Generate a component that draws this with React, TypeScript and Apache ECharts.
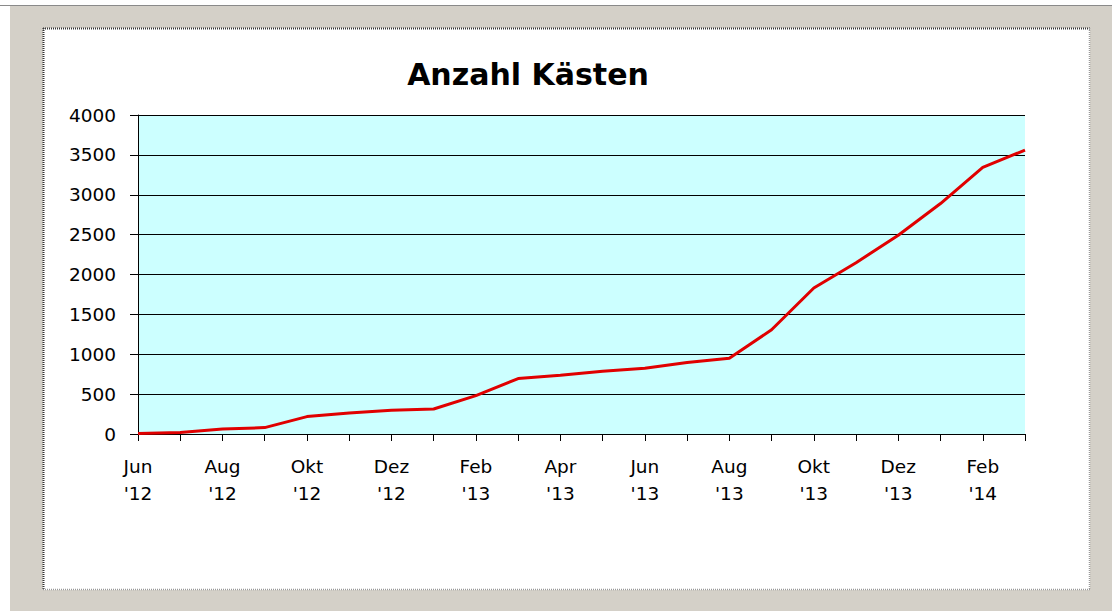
import React, { useEffect, useRef } from "react";
import * as echarts from "echarts";

const months = [
  "Jun\n'12", "Jul\n'12", "Aug\n'12", "Sep\n'12", "Okt\n'12", "Nov\n'12", "Dez\n'12",
  "Jan\n'13", "Feb\n'13", "Mär\n'13", "Apr\n'13", "Mai\n'13", "Jun\n'13", "Jul\n'13",
  "Aug\n'13", "Sep\n'13", "Okt\n'13", "Nov\n'13", "Dez\n'13", "Jan\n'14", "Feb\n'14", "Mär\n'14",
];
const kaesten = [
  5, 20, 63, 80, 218, 264, 297, 314, 482, 695, 737, 787, 825, 896, 951, 1307, 1830, 2148,
  2492, 2890, 3342, 3560,
];
const titleText = "Anzahl Kästen";

export default function App() {
  const ref = useRef<HTMLDivElement>(null);
  useEffect(() => {
    const chart = echarts.init(ref.current!, null, { renderer: "svg" });
    const font = "'DejaVu Sans', Verdana, sans-serif";
    chart.setOption({
      animation: false,
      backgroundColor: "#D4D0C8",
      textStyle: { fontFamily: font },
      graphic: [
        { type: "rect", shape: { x: 0, y: 0, width: 1112, height: 5 }, style: { fill: "#ffffff" }, z: -10 },
        { type: "rect", shape: { x: 0, y: 0, width: 10, height: 611 }, style: { fill: "#ffffff" }, z: -10 },
        { type: "line", shape: { x1: 0, y1: 5.5, x2: 1112, y2: 5.5 }, style: { stroke: "#8a8a8a", lineWidth: 1 }, z: -9 },
        { type: "rect", shape: { x: 43, y: 28, width: 1047, height: 562 }, style: { fill: "#ffffff" }, z: -8 },
        { type: "line", shape: { x1: 43.5, y1: 28, x2: 43.5, y2: 590 }, style: { stroke: "#333333", lineWidth: 2, lineDash: [1, 1] }, z: -7 },
        { type: "line", shape: { x1: 43, y1: 28.5, x2: 1090, y2: 28.5 }, style: { stroke: "#333333", lineWidth: 2, lineDash: [1, 1] }, z: -7 },
        { type: "line", shape: { x1: 1089.5, y1: 28, x2: 1089.5, y2: 590 }, style: { stroke: "#999999", lineWidth: 1.5, lineDash: [1, 1] }, z: -7 },
        { type: "line", shape: { x1: 43, y1: 589.5, x2: 1090, y2: 589.5 }, style: { stroke: "#999999", lineWidth: 1.5, lineDash: [1, 1] }, z: -7 },
        {
          type: "text",
          x: 528,
          y: 74,
          style: {
            text: titleText,
            fontFamily: font,
            fontSize: 30,
            fontWeight: "bold",
            fill: "#000000",
            align: "center",
            verticalAlign: "middle",
          },
        },
      ],
      grid: {
        left: 138,
        right: 87,
        top: 115,
        bottom: 177,
        show: true,
        backgroundColor: "#CCFFFF",
        borderWidth: 0,
      },
      xAxis: {
        type: "category",
        data: months,
        boundaryGap: false,
        axisLine: { show: true, lineStyle: { color: "#000000", width: 1 } },
        axisTick: { show: true, alignWithLabel: true, length: 7, interval: 0, lineStyle: { color: "#000000" } },
        axisLabel: {
          interval: 1,
          color: "#000000",
          fontSize: 18.5,
          lineHeight: 27,
          margin: 19,
          fontFamily: font,
        },
      },
      yAxis: {
        type: "value",
        min: 0,
        max: 4000,
        interval: 500,
        axisLine: { show: true, lineStyle: { color: "#000000", width: 1 } },
        axisTick: { show: true, length: 8, lineStyle: { color: "#000000" } },
        splitLine: { show: true, lineStyle: { color: "#000000", width: 1 } },
        axisLabel: {
          color: "#000000",
          fontSize: 18.5,
          margin: 22,
          fontFamily: font,
          formatter: (v: number) => String(v),
        },
      },
      series: [
        {
          type: "line",
          data: kaesten,
          symbol: "none",
          lineStyle: { color: "#E00000", width: 3 },
          z: 5,
        },
      ],
    });
    return () => chart.dispose();
  }, []);
  return (
    <div
      ref={ref}
      style={{ position: "fixed", left: 0, top: 0, width: 1112, height: 611 }}
    />
  );
}
